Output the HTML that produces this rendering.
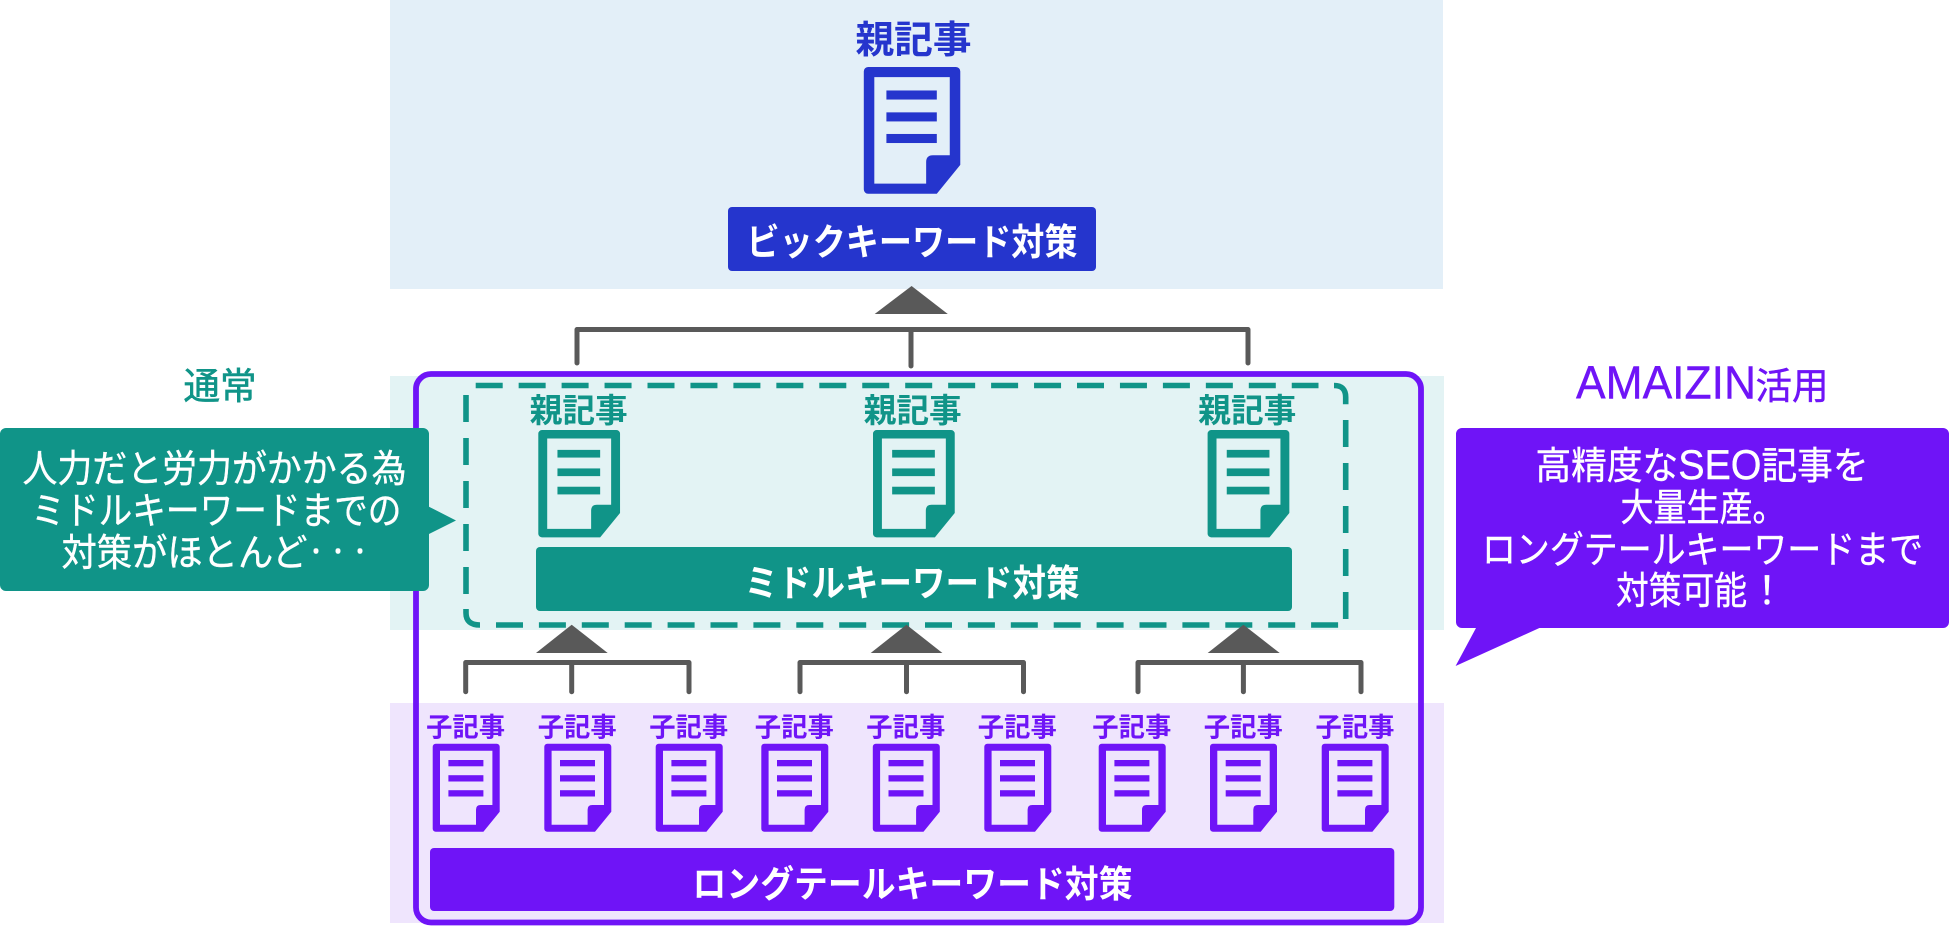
<!DOCTYPE html>
<html lang="ja"><head><meta charset="utf-8"><style>
html,body{margin:0;padding:0;background:#fff;width:1950px;height:926px;overflow:hidden}
svg{display:block}
text{font-family:"Liberation Sans","Noto Sans CJK JP",sans-serif;text-anchor:middle}
.b{font-weight:700}
</style></head><body>
<svg xmlns="http://www.w3.org/2000/svg" width="1950" height="926" viewBox="0 0 1950 926">
<defs>
<g id="doc">
<path fill-rule="evenodd" d="M3,0H64a3,3 0 0 1 3,3V68L50.7,88H3a3,3 0 0 1 -3,-3V3a3,3 0 0 1 3,-3zM7.3,7V81H43.3V66q0,-4.7 4.7,-4.7H59.7V7z"/>
<rect x="15.7" y="16.3" width="35" height="6.3"/><rect x="15.7" y="31.5" width="35" height="6.3"/><rect x="15.7" y="46.5" width="35" height="6.3"/>
</g>
</defs>
<rect x="390" y="0" width="1053" height="289" fill="#e3eff8"/>
<rect x="390" y="376" width="1054" height="254" fill="#e3f3f4"/>
<rect x="390" y="703" width="1054" height="220" fill="#efe5fd"/>

<!-- top -->
<text x="913.5" y="53" font-size="38" class="b" fill="#2535cd" textLength="116" lengthAdjust="spacingAndGlyphs">親記事</text>
<use href="#doc" transform="translate(863.8,67) scale(1.44)" fill="#2535cd"/>
<rect x="728" y="207" width="368" height="64" rx="4" fill="#2535cd"/>
<text x="912" y="255" font-size="37" class="b" fill="#fff" textLength="331" lengthAdjust="spacingAndGlyphs">ビックキーワード対策</text>

<!-- dashed teal frame -->
<g fill="none" stroke="#109488" stroke-width="5.6">
<path d="M475.7,385.5H1318.5" stroke-dasharray="27 15.95"/>
<path d="M1334,385.5q11.7,0 11.7,11.7V404.3"/>
<path d="M1345.7,420V620" stroke-dasharray="27 16"/>
<path d="M496,625H1339" stroke-dasharray="27 15.9"/>
<path d="M466,395V594" stroke-dasharray="27 16"/>
<path d="M466,609v4q0,12 14,12"/>
</g>

<!-- connectors -->
<g fill="#595959">
<polygon points="911.6,286 874.7,314 947.8,314"/>
<polygon points="571.7,624.7 536,653 607.7,653"/>
<polygon points="906.5,624.7 870.7,653 942.4,653"/>
<polygon points="1243.4,624.7 1207.7,653 1279.7,653"/>
</g>
<g fill="none" stroke="#595959" stroke-width="5" stroke-linecap="round" stroke-linejoin="round">
<path d="M577,363V329.5H1248V363M911,329.5V366"/>
<path d="M465.7,691.7V662.5H689V691.7M571.7,662.5V691.7"/>
<path d="M800,691.7V662.5H1023.5V691.7M906.5,662.5V691.7"/>
<path d="M1138,691.7V662.5H1361V691.7M1243.4,662.5V691.7"/>
</g>

<!-- purple frame -->
<rect x="416" y="374" width="1005" height="548.5" rx="15" fill="none" stroke="#6f14f7" stroke-width="5.8"/>

<!-- mid -->
<g fill="#109488">
<use href="#doc" transform="translate(538.3,430) scale(1.22)"/>
<use href="#doc" transform="translate(873,430) scale(1.22)"/>
<use href="#doc" transform="translate(1207.6,430) scale(1.22)"/>
<rect x="536" y="547" width="756" height="64" rx="4"/>
</g>
<g font-size="33" class="b" fill="#109488">
<text x="578.7" y="422" textLength="98" lengthAdjust="spacingAndGlyphs">親記事</text>
<text x="912.7" y="422" textLength="98" lengthAdjust="spacingAndGlyphs">親記事</text>
<text x="1247.3" y="422" textLength="98" lengthAdjust="spacingAndGlyphs">親記事</text>
</g>
<text x="912" y="596" font-size="37" class="b" fill="#fff" textLength="335" lengthAdjust="spacingAndGlyphs">ミドルキーワード対策</text>

<!-- children -->
<g fill="#6f14f7">
<use href="#doc" x="432.7" y="743.7"/><use href="#doc" x="544.3" y="743.7"/><use href="#doc" x="655.7" y="743.7"/>
<use href="#doc" x="761.3" y="743.7"/><use href="#doc" x="872.8" y="743.7"/><use href="#doc" x="984.3" y="743.7"/>
<use href="#doc" x="1098.7" y="743.7"/><use href="#doc" x="1210" y="743.7"/><use href="#doc" x="1321.7" y="743.7"/>
<rect x="430" y="848" width="964.3" height="63" rx="4"/>
</g>
<g font-size="26.5" class="b" fill="#6f14f7">
<text x="465.6" y="736.5" textLength="79" lengthAdjust="spacingAndGlyphs">子記事</text>
<text x="577.2" y="736.5" textLength="79" lengthAdjust="spacingAndGlyphs">子記事</text>
<text x="688.7" y="736.5" textLength="79" lengthAdjust="spacingAndGlyphs">子記事</text>
<text x="794.3" y="736.5" textLength="79" lengthAdjust="spacingAndGlyphs">子記事</text>
<text x="905.8" y="736.5" textLength="79" lengthAdjust="spacingAndGlyphs">子記事</text>
<text x="1017.3" y="736.5" textLength="79" lengthAdjust="spacingAndGlyphs">子記事</text>
<text x="1131.8" y="736.5" textLength="79" lengthAdjust="spacingAndGlyphs">子記事</text>
<text x="1243.3" y="736.5" textLength="79" lengthAdjust="spacingAndGlyphs">子記事</text>
<text x="1355" y="736.5" textLength="79" lengthAdjust="spacingAndGlyphs">子記事</text>
</g>
<text x="912.5" y="897" font-size="37" class="b" fill="#fff" textLength="440" lengthAdjust="spacingAndGlyphs">ロングテールキーワード対策</text>

<!-- left callout -->
<text x="220" y="399" font-size="37" fill="#109488" stroke="#109488" stroke-width=".6" textLength="73" lengthAdjust="spacingAndGlyphs">通常</text>
<path d="M6,428H423a6,6 0 0 1 6,6V506.7L456,520.5L429,534V585a6,6 0 0 1 -6,6H6a6,6 0 0 1 -6,-6V434a6,6 0 0 1 6,-6z" fill="#109488"/>
<g font-size="38" fill="#fff" stroke="#fff" stroke-width=".4">
<text x="214.5" y="482" textLength="384" lengthAdjust="spacingAndGlyphs">人力だと労力がかかる為</text>
<text x="216.4" y="524" textLength="370" lengthAdjust="spacingAndGlyphs">ミドルキーワードまでの</text>
<text x="184.5" y="566" textLength="246" lengthAdjust="spacingAndGlyphs">対策がほとんど</text>
<text x="338" y="560" font-size="24" textLength="66" lengthAdjust="spacingAndGlyphs">・・・</text>
</g>

<!-- right callout -->
<text x="1666" y="398.5" font-size="46" fill="#6f14f7" stroke="#6f14f7" stroke-width=".4" textLength="180" lengthAdjust="spacingAndGlyphs">AMAIZIN</text>
<text x="1792" y="399" font-size="37" fill="#6f14f7" stroke="#6f14f7" stroke-width=".5" textLength="73" lengthAdjust="spacingAndGlyphs">活用</text>
<path d="M1462,428H1943a6,6 0 0 1 6,6V622a6,6 0 0 1 -6,6H1539.4L1455.6,666L1476,628H1462a6,6 0 0 1 -6,-6V434a6,6 0 0 1 6,-6z" fill="#6f14f7"/>
<g font-size="38" fill="#fff" stroke="#fff" stroke-width=".4">
<text x="1702" y="479" textLength="333" lengthAdjust="spacingAndGlyphs">高精度な<tspan font-size="42">SEO</tspan>記事を</text>
<text x="1703" y="521" textLength="165" lengthAdjust="spacingAndGlyphs">大量生産。</text>
<text x="1702.5" y="563" textLength="441" lengthAdjust="spacingAndGlyphs">ロングテールキーワードまで</text>
<text x="1681.5" y="604" textLength="131" lengthAdjust="spacingAndGlyphs">対策可能</text>
<text x="1767" y="604">！</text>
</g>
</svg>
</body></html>
